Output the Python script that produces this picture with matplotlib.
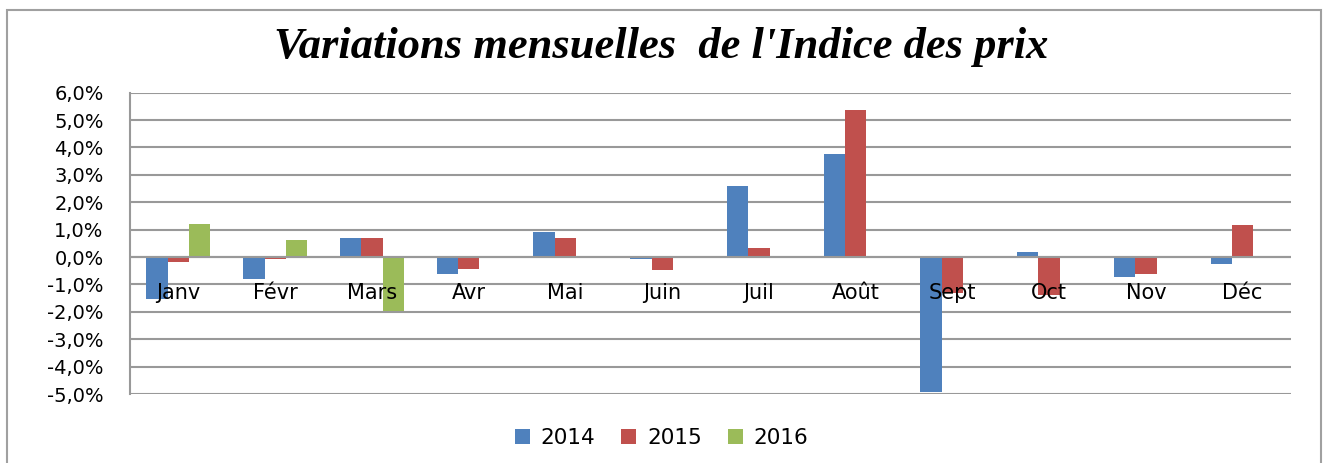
import numpy as np
import matplotlib.pyplot as plt
from matplotlib.patches import Rectangle
from matplotlib.ticker import FuncFormatter

mois = ['Janv', 'Févr', 'Mars', 'Avr', 'Mai', 'Juin', 'Juil', 'Août', 'Sept', 'Oct', 'Nov', 'Déc']
v2014 = [-1.55, -0.8, 0.7, -0.62, 0.9, -0.07, 2.58, 3.75, -4.93, 0.2, -0.73, -0.26]
v2015 = [-0.18, -0.07, 0.7, -0.45, 0.68, -0.48, 0.32, 5.35, -1.3, -1.4, -0.62, 1.16]
v2016 = [1.22, 0.62, -1.98, np.nan, np.nan, np.nan, np.nan, np.nan, np.nan, np.nan, np.nan, np.nan]
annees = ['2014', '2015', '2016']
couleurs = ['#4F81BD', '#C0504D', '#9BBB59']

fig = plt.figure(figsize=(13.23, 4.63), dpi=100)
ax = fig.add_axes([0.0983, 0.149, 0.8775, 0.651])

# cadre gris autour du graphique
fig.patches.append(Rectangle((7 / 1323, -0.05), 1314 / 1323, 1 - 10 / 463 + 0.05,
                             transform=fig.transFigure, fill=False,
                             edgecolor='#A0A0A0', linewidth=1.5))

x = np.arange(len(mois))
w = 0.22
for i, (vals, lab, c) in enumerate(zip([v2014, v2015, v2016], annees, couleurs)):
    ax.bar(x + (i - 1) * w, vals, width=w, color=c, label=lab, zorder=2)

ax.set_xlim(-0.5, 11.5)
ax.set_ylim(-5, 6)
ax.set_yticks(np.arange(-5, 7, 1))
ax.yaxis.set_major_formatter(FuncFormatter(lambda v, p: f'{v:.1f}%'.replace('.', ',')))
ax.grid(axis='y', color='#999999', linewidth=1.5, zorder=0)
ax.axhline(0, color='#999999', linewidth=1.5, zorder=3)
for s in ['top', 'right', 'bottom']:
    ax.spines[s].set_visible(False)
ax.spines['left'].set_color('#999999')
ax.spines['left'].set_linewidth(1.5)
ax.tick_params(axis='y', length=0, pad=19, labelsize=14)
ax.set_xticks([])

for xi, m in zip(x, mois):
    ax.text(xi, -1.3, m, ha='center', va='center', fontsize=15, zorder=4)

fig.text(0.5, 1 - 47 / 463, "Variations mensuelles  de l'Indice des prix",
         ha='center', va='center', fontsize=32, fontweight='bold', fontstyle='italic',
         family='Liberation Serif')

fig.legend(loc='center', bbox_to_anchor=(0.5, 1 - 438 / 463), ncol=3, frameon=False,
           fontsize=15.5, handlelength=0.7, handleheight=0.7, columnspacing=1.2,
           handletextpad=0.5)

plt.savefig('out.png', dpi=100)
